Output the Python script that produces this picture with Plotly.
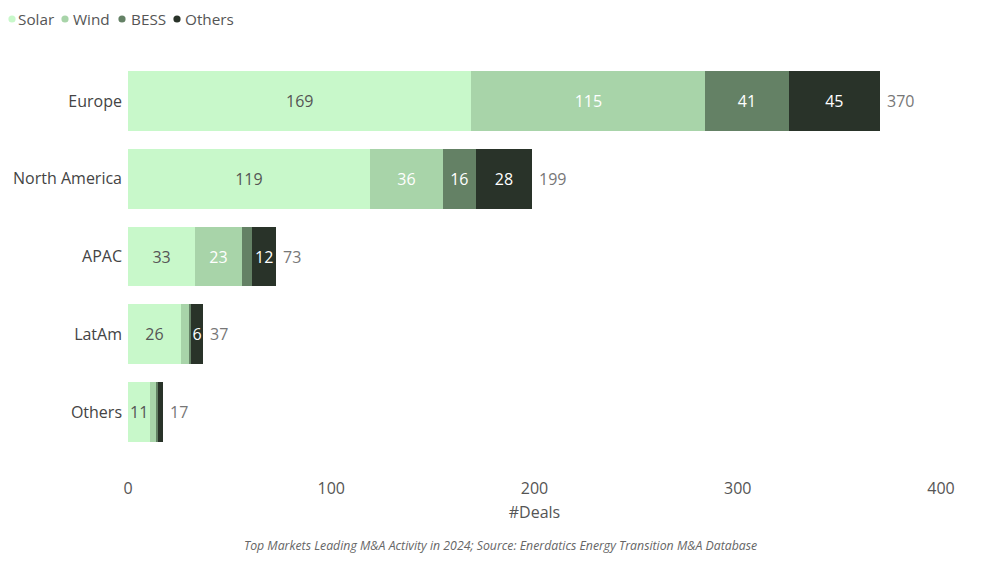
import plotly.graph_objects as go

regions = ["Europe", "North America", "APAC", "LatAm", "Others"]
solar = [169, 119, 33, 26, 11]
wind = [115, 36, 23, 4, 3]
bess = [41, 16, 5, 1, 1]
others = [45, 28, 12, 6, 2]
series_names = ["Solar", "Wind", "BESS", "Others"]
series_values = [solar, wind, bess, others]
colors = ["#C8F8CA", "#A8D4A9", "#648165", "#293329"]
label_colors = ["#555555", "#FFFFFF", "#FFFFFF", "#FFFFFF"]
x_ticks = [0, 100, 200, 300, 400]
caption = "Top Markets Leading M&A Activity in 2024; Source: Enerdatics Energy Transition M&A Database"
x_title = "#Deals"

totals = [sum(v) for v in zip(*series_values)]
FONT = "Segoe UI, Open Sans, sans-serif"

# page body has an 8px margin; figure is sized to fit the window
W, H = 992, 563
ML, MR, MT, MB = 120, 59, 54, 120
plot_w = W - ML - MR
plot_h = H - MT - MB


def px_x(px):
    return (px - ML) / plot_w


def px_y(py):
    return 1 - (py - MT) / plot_h


fig = go.Figure()
for name, vals, col, lcol in zip(series_names, series_values, colors, label_colors):
    fig.add_trace(go.Bar(
        y=regions, x=vals, orientation="h", name=name,
        marker=dict(color=col, line=dict(width=0)),
        text=[str(v) if v >= 6 else "" for v in vals],
        textposition="inside", insidetextanchor="middle", textangle=0,
        constraintext="none",
        insidetextfont=dict(color=lcol, size=16, family=FONT),
        showlegend=False, hoverinfo="x+name",
    ))

annotations = []
shapes = []
for r, t in zip(regions, totals):
    annotations.append(dict(x=t, y=r, xref="x", yref="y", text=str(t), showarrow=False,
                            xanchor="left", yanchor="middle", xshift=5,
                            font=dict(size=16, color="#777777", family=FONT)))

# legend row (dot + label) along the top-left
legend_dot_px = [4, 57, 114, 169]
legend_text_px = [8, 63, 121, 175]
legend_y = 11
for n, c, dx, tx in zip(series_names, colors, legend_dot_px, legend_text_px):
    shapes.append(dict(type="circle", xref="paper", yref="paper",
                       xsizemode="pixel", ysizemode="pixel",
                       xanchor=px_x(dx), yanchor=px_y(legend_y),
                       x0=-3.6, x1=3.6, y0=-3.6, y1=3.6,
                       fillcolor=c, line=dict(width=0)))
    annotations.append(dict(text=n, xref="paper", yref="paper", x=px_x(tx), y=px_y(legend_y),
                            xanchor="left", yanchor="middle", showarrow=False,
                            font=dict(size=15.3, color="#555555", family=FONT)))

annotations.append(dict(text=caption, xref="paper", yref="paper", x=px_x(492),
                        y=px_y(537), xanchor="center", yanchor="middle", showarrow=False,
                        font=dict(size=12.3, color="#666666", family=FONT, style="italic")))

fig.update_layout(
    width=W, height=H,
    barmode="stack", bargap=0.23,
    plot_bgcolor="white", paper_bgcolor="white",
    margin=dict(l=ML, r=MR, t=MT, b=MB, autoexpand=False),
    font=dict(family=FONT, color="#555555", size=16),
    showlegend=False,
    xaxis=dict(range=[0, 400], tickvals=x_ticks, showgrid=False, zeroline=False,
               showline=False, ticks="", ticklabelstandoff=26, automargin=False,
               tickfont=dict(size=16, color="#555555"),
               title=dict(text=x_title, font=dict(size=16, color="#555555"), standoff=8)),
    yaxis=dict(categoryorder="array", categoryarray=regions, autorange="reversed",
               showgrid=False, zeroline=False, showline=False, ticks="", automargin=False,
               ticklabelstandoff=5, tickfont=dict(size=16, color="#444444")),
    annotations=annotations,
    shapes=shapes,
)

fig.write_html("out.html")
